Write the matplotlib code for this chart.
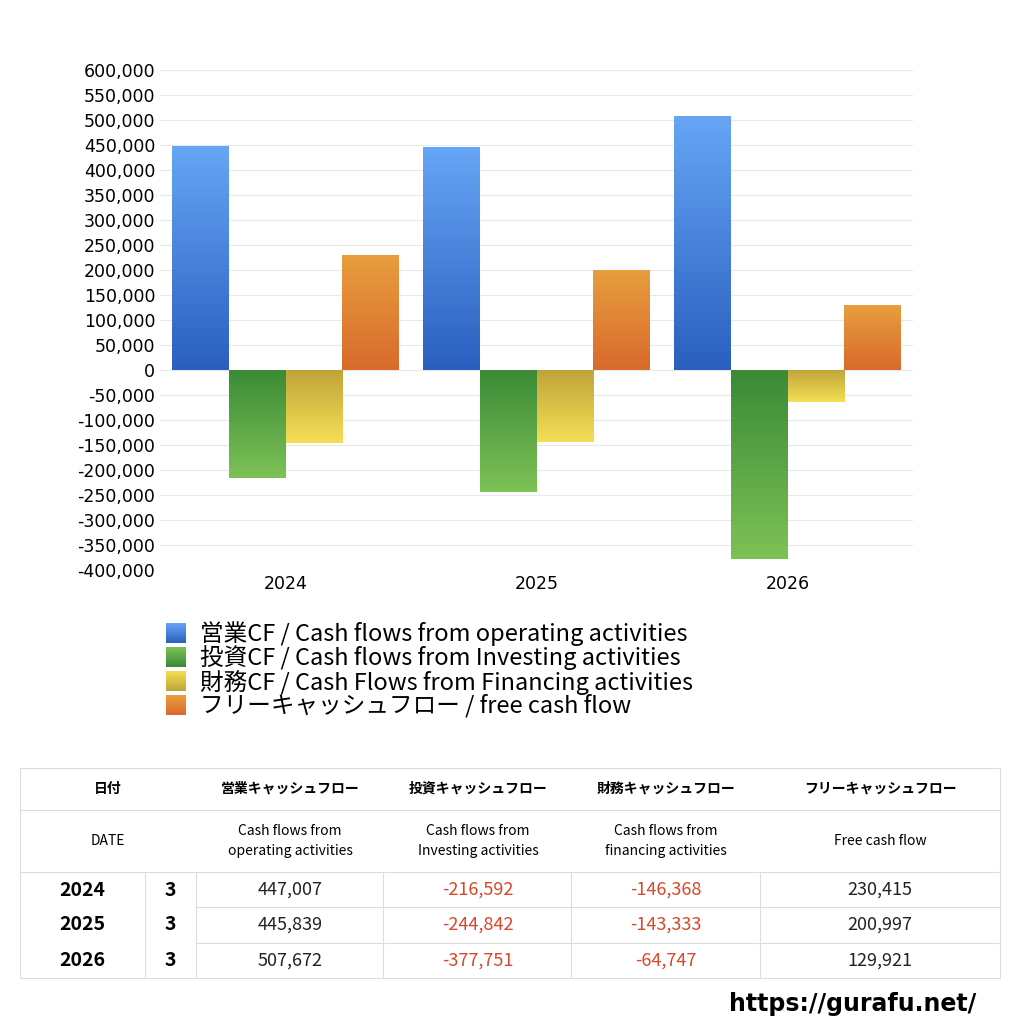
import matplotlib
matplotlib.use("Agg")
import matplotlib.pyplot as plt
import numpy as np
from matplotlib.colors import LinearSegmentedColormap

plt.rcParams['font.family'] = ['Noto Sans CJK JP', 'DejaVu Sans']

years = ["2024", "2025", "2026"]
months = ["3", "3", "3"]
operating = [447007, 445839, 507672]
investing = [-216592, -244842, -377751]
financing = [-146368, -143333, -64747]
free_cf = [230415, 200997, 129921]
series_labels = ["営業CF / Cash flows from operating activities",
                 "投資CF / Cash flows from Investing activities",
                 "財務CF / Cash Flows from Financing activities",
                 "フリーキャッシュフロー / free cash flow"]
grads = [("#2a5fbf", "#66a6f5"), ("#3a8a36", "#7dc256"),
         ("#c0a33a", "#f5df55"), ("#d86a2c", "#e89e3e")]

fig = plt.figure(figsize=(10.24, 10.24), dpi=100)
ax = fig.add_axes([160/1024, 1-570/1024, 753/1024, 500/1024])
ax.set_xlim(-0.5, 2.5)
ax.set_ylim(-400000, 600000)
ax.set_yticks(np.arange(-400000, 600001, 50000))
ax.set_yticklabels([f"{v:,}" for v in range(-400000, 600001, 50000)], fontsize=12.5, family=['DejaVu Sans'])
ax.set_xticks(range(3))
ax.set_xticklabels(years, fontsize=12.5, family=['DejaVu Sans'])
ax.grid(axis='y', color='#e8e8e8', lw=0.8)
ax.set_axisbelow(True)
for s in ax.spines.values():
    s.set_visible(False)
ax.tick_params(length=0)

w = 0.227
data = [operating, investing, financing, free_cf]
grad = np.linspace(0, 1, 256).reshape(-1, 1)
for si, vals in enumerate(data):
    cmap = LinearSegmentedColormap.from_list("g", list(grads[si]))
    for gi, v in enumerate(vals):
        x0 = gi - 2*w + si*w
        bar = ax.bar(x0, v, w, align='edge', color='none', zorder=2)[0]
        lo, hi = min(0, v), max(0, v)
        img = grad if v > 0 else grad[::-1]
        im = ax.imshow(img, extent=[x0, x0+w, lo, hi], origin='lower', cmap=cmap,
                       aspect='auto', zorder=2)
        im.set_clip_path(bar)
ax.set_xlim(-0.5, 2.5)
ax.set_ylim(-400000, 600000)

# legend
for i, lab in enumerate(series_labels):
    y = 1 - (634 + 24*i)/1024
    cmap = LinearSegmentedColormap.from_list("g", list(grads[i]))
    lax = fig.add_axes([166/1024, y - 9/1024, 20/1024, 20/1024])
    lax.imshow(grad, cmap=cmap, origin='lower', aspect='auto')
    lax.axis('off')
    fig.text(200/1024, y, lab, fontsize=17, va='center', ha='left')

# table
tax = fig.add_axes([0, 0, 1, 1])
tax.set_xlim(0, 1024); tax.set_ylim(1024, 0); tax.axis('off')
lc = '#dddddd'
for yy in [768, 810, 872, 978]:
    tax.plot([20, 1000], [yy, yy], color=lc, lw=0.8)
for yy in [907, 943]:
    tax.plot([196, 1000], [yy, yy], color=lc, lw=0.8)
tax.plot([20, 20], [768, 978], color=lc, lw=0.8)
tax.plot([1000, 1000], [768, 978], color=lc, lw=0.8)
for xx in [145, 196, 383, 571, 760]:
    tax.plot([xx, xx], [872, 978], color=lc, lw=0.8)
cols = [290, 478, 666, 880]
h1 = ["営業キャッシュフロー", "投資キャッシュフロー", "財務キャッシュフロー", "フリーキャッシュフロー"]
h2 = ["Cash flows from\noperating activities", "Cash flows from\nInvesting activities",
      "Cash flows from\nfinancing activities", "Free cash flow"]
tax.text(108, 789, "日付", ha='center', va='center', fontsize=10, weight='bold')
tax.text(108, 841, "DATE", ha='center', va='center', fontsize=10)
for c, a, b in zip(cols, h1, h2):
    tax.text(c, 789, a, ha='center', va='center', fontsize=10, weight='bold')
    tax.text(c, 841, b, ha='center', va='center', fontsize=10, linespacing=1.5)
rows_y = [890, 925, 961]
for r, yv in enumerate(rows_y):
    tax.text(82, yv, years[r], ha='center', va='center', fontsize=14, weight='bold')
    tax.text(170, yv, months[r], ha='center', va='center', fontsize=14, weight='bold')
    for c, vals in zip(cols, data):
        v = vals[r]
        tax.text(c, yv, f"{v:,}", ha='center', va='center', fontsize=13,
                 color='#d9472b' if v < 0 else '#222222')
tax.text(853, 1004, "https://gurafu.net/", ha='center', va='center', fontsize=17, weight='bold', family=['DejaVu Sans'])

fig.savefig("out.png", dpi=100, facecolor='white')
